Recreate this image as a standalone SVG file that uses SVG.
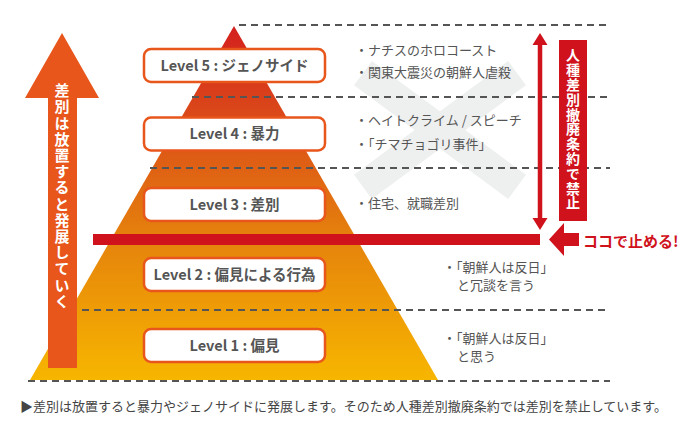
<svg xmlns="http://www.w3.org/2000/svg" width="690" height="440" viewBox="0 0 690 440">
<style>
.jp{font-family:"Noto Sans CJK JP","Noto Sans",sans-serif}
.lvl rect{fill:#fff;stroke:#e8561b;stroke-width:2.5}
.lvl text{font-family:"Noto Sans CJK JP","Noto Sans",sans-serif;font-weight:bold;font-size:14.5px;fill:#555;text-anchor:middle}
.dash{stroke:#555;stroke-width:2;stroke-dasharray:7 5;fill:none}
.note{font-family:"Noto Sans CJK JP","Noto Sans",sans-serif;font-size:13px;fill:#555}
.vt{font-family:"Noto Sans CJK JP","Noto Sans",sans-serif;font-weight:bold;fill:#fff;writing-mode:vertical-rl;text-anchor:start}
</style>
<defs>
<linearGradient id="pg" x1="0" y1="26" x2="0" y2="380" gradientUnits="userSpaceOnUse">
<stop offset="0" stop-color="#d4201e"/>
<stop offset="0.3" stop-color="#dc5118"/>
<stop offset="0.6" stop-color="#e5820c"/>
<stop offset="1" stop-color="#f7b600"/>
</linearGradient>
</defs>
<rect width="690" height="440" fill="#fff"/>
<g id="watermark">
<path d="M375 82 L505 178 M505 82 L375 178" stroke="#eeefef" stroke-width="30" stroke-linecap="square" fill="none"/>
</g>
<g id="pyramid">
<polygon points="234,26 438,380 30,380" fill="url(#pg)"/>
</g>
<g id="connectors">
<line class="dash" x1="239" y1="25" x2="610" y2="25"/>
<line class="dash" x1="192" y1="97" x2="610" y2="97"/>
<line class="dash" x1="150" y1="168" x2="610" y2="168"/>
<line class="dash" x1="70" y1="310" x2="610" y2="310"/>
<line class="dash" x1="28" y1="381" x2="610" y2="381"/>
<rect x="93" y="234" width="447" height="11" fill="#d0121c"/>
<polygon points="549,239.5 564,223 564,233 579,233 579,246 564,246 564,256" fill="#d0121c"/>
<line x1="540" y1="44" x2="540" y2="219" stroke="#d0121c" stroke-width="4.5"/>
<polygon points="540,33 547.5,45 532.5,45" fill="#d0121c"/>
<polygon points="540,230 547.5,218 532.5,218" fill="#d0121c"/>
</g>
<g id="level5" class="lvl"><rect x="144" y="49" width="181" height="33" rx="7"/><text x="234.5" y="70.5">Level 5 : ジェノサイド</text></g>
<g id="level4" class="lvl"><rect x="144" y="117.5" width="181" height="33" rx="7"/><text x="234.5" y="139">Level 4 : 暴力</text></g>
<g id="level3" class="lvl"><rect x="144" y="188" width="181" height="33" rx="7"/><text x="234.5" y="209.5">Level 3 : 差別</text></g>
<g id="level2" class="lvl"><rect x="144" y="258" width="181" height="33" rx="7"/><text x="234.5" y="279.5">Level 2 : 偏見による行為</text></g>
<g id="level1" class="lvl"><rect x="144" y="329" width="181" height="33" rx="7"/><text x="234.5" y="350.5">Level 1 : 偏見</text></g>
<g id="notes">
<text class="note" x="355" y="55">・ナチスのホロコースト</text>
<text class="note" x="355" y="77">・関東大震災の朝鮮人虐殺</text>
<text class="note" x="355" y="125">・ヘイトクライム / スピーチ</text>
<text class="note" x="355" y="149">・「チマチョゴリ事件」</text>
<text class="note" x="355" y="208">・住宅、就職差別</text>
<text class="note" x="443" y="272">・「朝鮮人は反日」</text>
<text class="note" x="457" y="290">と冗談を言う</text>
<text class="note" x="443" y="343">・「朝鮮人は反日」</text>
<text class="note" x="457" y="361">と思う</text>
</g>
<g id="escalation-arrow">
<polygon points="62,33 99,98 77,98 77,368 48,368 48,98 25,98" fill="#e8561b"/>
<text class="vt" x="62" y="83" font-size="15" letter-spacing="1.2">差別は放置すると発展していく</text>
</g>
<g id="convention-label">
<rect x="559" y="40" width="28" height="181" fill="#d0121c"/>
<text class="vt" x="573" y="48" font-size="14" letter-spacing="0.8">人種差別撤廃条約で禁止</text>
</g>
<g id="stop-label">
<text class="jp" x="583" y="247" font-size="15" font-weight="bold" fill="#d0121c">ココで止める!</text>
</g>
<g id="caption">
<text class="jp" x="20" y="411" font-size="13" fill="#444">▶差別は放置すると暴力やジェノサイドに発展します。そのため人種差別撤廃条約では差別を禁止しています。</text>
</g>
</svg>
